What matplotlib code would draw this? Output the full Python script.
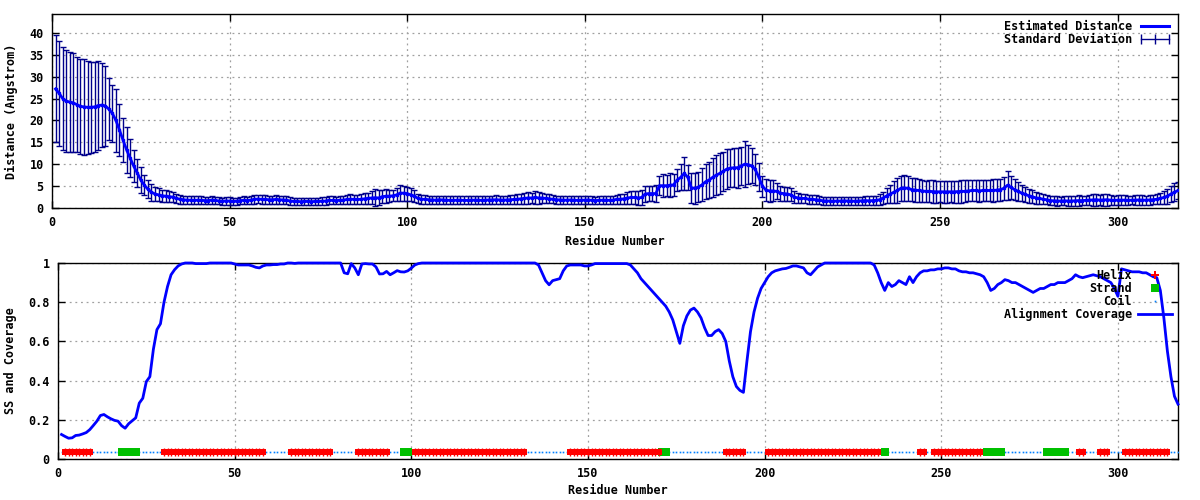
import matplotlib
matplotlib.use("Agg")
import matplotlib.pyplot as plt
from matplotlib.lines import Line2D
import numpy as np

residues = list(range(1, 318))

distance = [
    27.2, 26.2, 25.0, 24.4, 24.2, 24.0, 23.6, 23.2, 23.1, 23.0,
    23.0, 23.1, 23.4, 23.5, 23.3, 22.6, 21.6, 20.0, 17.8, 15.5,
    13.3, 11.4, 9.6, 8.0, 6.4, 5.2, 4.3, 3.6, 3.2, 3.0,
    2.8, 2.7, 2.6, 2.5, 2.2, 2.0, 1.9, 1.8, 1.8, 1.75,
    1.8, 1.75, 1.7, 1.7, 1.8, 1.75, 1.6, 1.55, 1.6, 1.6,
    1.5, 1.55, 1.7, 1.75, 1.7, 1.8, 2.0, 2.05, 2.0, 1.95,
    1.9, 1.9, 1.95, 1.9, 1.85, 1.8, 1.6, 1.5, 1.5, 1.45,
    1.5, 1.5, 1.45, 1.5, 1.5, 1.55, 1.6, 1.75, 1.75, 1.7,
    1.75, 1.8, 1.95, 2.0, 2.0, 1.95, 2.0, 2.1, 2.2, 2.3,
    2.35, 2.3, 2.6, 2.7, 2.7, 2.8, 3.0, 3.4, 3.4, 3.3,
    3.0, 2.7, 2.2, 2.0, 2.0, 1.9, 1.85, 1.8, 1.9, 1.85,
    1.8, 1.75, 1.75, 1.8, 1.8, 1.75, 1.75, 1.8, 1.8, 1.8,
    1.75, 1.8, 1.85, 1.85, 1.9, 1.85, 1.8, 1.85, 1.9, 1.95,
    2.0, 2.1, 2.2, 2.3, 2.3, 2.4, 2.3, 2.3, 2.2, 2.1,
    2.0, 1.9, 1.85, 1.8, 1.8, 1.85, 1.8, 1.75, 1.8, 1.8,
    1.85, 1.75, 1.7, 1.75, 1.8, 1.8, 1.75, 1.8, 2.0, 2.0,
    2.1, 2.3, 2.4, 2.4, 2.3, 2.4, 3.2, 3.3, 3.3, 3.3,
    5.1, 5.1, 5.1, 5.2, 5.3, 6.4, 7.0, 7.9, 7.0, 4.6,
    4.5, 4.8, 5.3, 6.0, 6.4, 7.0, 7.5, 7.9, 8.4, 8.9,
    9.1, 9.2, 9.2, 9.6, 10.0, 9.9, 9.6, 8.8, 7.0, 5.0,
    4.1, 3.9, 3.9, 3.8, 3.4, 3.3, 3.2, 3.0, 2.5, 2.3,
    2.2, 2.2, 2.0, 2.0, 1.9, 1.8, 1.65, 1.6, 1.6, 1.55,
    1.6, 1.6, 1.65, 1.6, 1.6, 1.55, 1.6, 1.65, 1.7, 1.65,
    1.7, 1.75, 1.9, 2.3, 2.8, 3.2, 3.6, 4.0, 4.5, 4.6,
    4.5, 4.2, 4.1, 4.0, 3.9, 3.8, 3.8, 3.75, 3.7, 3.7,
    3.7, 3.7, 3.7, 3.7, 3.75, 3.8, 3.8, 3.9, 4.0, 4.0,
    3.9, 4.0, 4.0, 4.0, 4.0, 4.1, 4.2, 4.5, 5.2, 4.7,
    4.2, 3.8, 3.4, 3.1, 2.8, 2.6, 2.3, 2.2, 2.0, 1.9,
    1.7, 1.65, 1.6, 1.6, 1.65, 1.6, 1.6, 1.65, 1.7, 1.7,
    1.75, 1.8, 1.85, 1.9, 1.8, 1.85, 1.9, 1.8, 1.75, 1.8,
    1.8, 1.8, 1.75, 1.8, 1.8, 1.85, 1.8, 1.8, 1.85, 1.9,
    2.0, 2.2, 2.4, 2.7, 3.2, 3.6, 4.0,
]

std_dev = [
    12.2, 12.0, 11.8, 11.6, 11.4, 11.3, 10.8, 10.9, 11.0, 10.6,
    10.4, 10.3, 10.2, 9.6, 9.2, 7.0, 6.5, 7.2, 6.0, 5.0,
    5.2, 4.4, 3.6, 3.2, 2.9, 2.3, 2.1, 1.9, 1.6, 1.5,
    1.4, 1.3, 1.2, 1.2, 1.1, 1.0, 0.9, 0.9, 0.9, 0.9,
    0.9, 0.9, 0.85, 0.9, 0.9, 0.85, 0.8, 0.8, 0.85, 0.85,
    0.8, 0.8, 0.85, 0.9, 0.9, 0.9, 1.0, 1.0, 1.0, 0.95,
    0.9, 0.9, 1.0, 0.95, 0.9, 0.9, 0.85, 0.8, 0.8, 0.8,
    0.8, 0.8, 0.8, 0.8, 0.85, 0.85, 0.85, 0.9, 0.9, 0.9,
    0.95, 1.0, 1.1, 1.1, 1.0, 1.1, 1.2, 1.3, 1.2, 1.5,
    2.0, 1.7, 1.5, 1.6, 1.4, 1.2, 1.5, 1.8, 1.7, 1.6,
    1.5, 1.4, 1.1, 1.0, 1.0, 0.95, 0.9, 0.9, 0.95, 0.9,
    0.9, 0.9, 0.95, 0.9, 0.9, 0.95, 0.9, 0.9, 0.95, 0.9,
    0.9, 0.95, 0.9, 0.95, 1.0, 0.95, 0.9, 1.0, 1.0, 1.05,
    1.1, 1.2, 1.3, 1.4, 1.2, 1.4, 1.3, 1.2, 1.1, 1.0,
    0.95, 0.9, 0.9, 0.95, 0.9, 0.95, 0.9, 0.9, 0.95, 0.9,
    0.95, 0.9, 0.9, 0.95, 0.9, 0.95, 0.95, 1.0, 1.0, 1.1,
    1.2, 1.3, 1.4, 1.5, 1.6, 1.8, 1.9, 1.8, 1.7, 1.9,
    2.2, 2.6, 2.4, 2.8, 2.5, 2.6, 3.0, 3.7, 2.8, 3.5,
    3.6, 3.4, 3.8, 4.0, 4.2, 4.5, 4.6, 4.7, 4.5, 4.6,
    4.4, 4.5, 4.6, 4.4, 5.2, 4.5, 4.0, 3.5, 3.2, 2.4,
    2.6, 2.5, 2.4, 1.8, 1.7, 1.6, 1.6, 1.5, 1.3, 1.2,
    1.1, 1.1, 1.0, 1.05, 1.0, 1.0, 0.95, 0.95, 0.9, 0.9,
    0.95, 0.9, 0.9, 0.95, 0.9, 0.9, 0.95, 0.95, 1.0, 1.0,
    1.05, 1.1, 1.2, 1.4, 1.7, 2.0, 2.5, 2.8, 2.9, 3.0,
    2.8, 2.6, 2.7, 2.6, 2.5, 2.4, 2.5, 2.6, 2.5, 2.4,
    2.5, 2.5, 2.4, 2.5, 2.5, 2.6, 2.5, 2.4, 2.5, 2.5,
    2.6, 2.5, 2.4, 2.5, 2.6, 2.5, 2.5, 2.6, 3.3, 2.7,
    2.4, 2.1, 1.9, 1.8, 1.6, 1.5, 1.3, 1.2, 1.1, 1.0,
    1.0, 1.0, 1.05, 1.0, 1.0, 1.05, 1.1, 1.1, 1.2, 1.1,
    1.1, 1.2, 1.3, 1.4, 1.2, 1.3, 1.4, 1.2, 1.1, 1.1,
    1.1, 1.1, 1.1, 1.0, 1.1, 1.1, 1.1, 1.05, 1.1, 1.1,
    1.2, 1.3, 1.5, 1.7, 1.9, 2.0, 2.0,
]

coverage = [
    0.125, 0.115, 0.106, 0.108, 0.12, 0.122, 0.128, 0.135, 0.15, 0.171,
    0.193, 0.222, 0.227, 0.215, 0.205, 0.197, 0.193, 0.17, 0.157, 0.18,
    0.195, 0.21, 0.285, 0.31, 0.395, 0.42, 0.56, 0.66, 0.69, 0.8,
    0.88, 0.94, 0.966, 0.985, 0.995, 1.0, 1.0, 1.0, 0.997, 0.997,
    0.997, 0.997, 1.0, 1.0, 1.0, 1.0, 1.0, 1.0, 1.0, 0.995,
    0.99, 0.99, 0.99, 0.99, 0.985, 0.978, 0.975, 0.985, 0.99, 0.99,
    0.992, 0.992, 0.995, 0.995, 1.0, 1.0, 0.998, 1.0, 1.0, 1.0,
    1.0, 1.0, 1.0, 1.0, 1.0, 1.0, 1.0, 1.0, 1.0, 1.0,
    0.95, 0.945, 0.997, 0.975, 0.94, 0.995, 0.997, 0.995, 0.995, 0.98,
    0.944, 0.945, 0.957, 0.94, 0.95, 0.961, 0.955, 0.954, 0.96, 0.974,
    0.99, 0.997, 1.0, 1.0, 1.0, 1.0, 1.0, 1.0, 1.0, 1.0,
    1.0, 1.0, 1.0, 1.0, 1.0, 1.0, 1.0, 1.0, 1.0, 1.0,
    1.0, 1.0, 1.0, 1.0, 1.0, 1.0, 1.0, 1.0, 1.0, 1.0,
    1.0, 1.0, 1.0, 1.0, 1.0, 0.99, 0.95, 0.91, 0.889, 0.91,
    0.915, 0.92, 0.96, 0.985, 0.99, 0.99, 0.99, 0.99, 0.985, 0.985,
    0.99, 0.997, 0.997, 0.997, 0.997, 0.997, 0.997, 0.997, 0.997, 0.997,
    0.997, 0.99, 0.97, 0.95, 0.92, 0.9, 0.88, 0.86, 0.84, 0.82,
    0.8, 0.78, 0.75, 0.71, 0.65, 0.59, 0.68, 0.73, 0.76, 0.77,
    0.75, 0.72, 0.67, 0.63, 0.63, 0.65, 0.66, 0.64, 0.6, 0.5,
    0.42, 0.37, 0.35, 0.34, 0.5, 0.65, 0.75, 0.82, 0.87, 0.9,
    0.93, 0.95, 0.96, 0.965, 0.97, 0.972, 0.978, 0.985, 0.985, 0.98,
    0.975, 0.95, 0.94, 0.96, 0.98, 0.99, 1.0, 1.0, 1.0, 1.0,
    1.0, 1.0, 1.0, 1.0, 1.0, 1.0, 1.0, 1.0, 1.0, 1.0,
    0.99, 0.95, 0.9, 0.86, 0.9, 0.88, 0.89, 0.91, 0.9, 0.89,
    0.93, 0.9, 0.93, 0.95, 0.96, 0.96, 0.965, 0.965, 0.97, 0.97,
    0.975, 0.975, 0.97, 0.97, 0.96, 0.955, 0.955, 0.95, 0.95, 0.945,
    0.94, 0.93, 0.9, 0.86, 0.87, 0.89, 0.9, 0.915, 0.91, 0.9,
    0.9, 0.89, 0.88, 0.87, 0.86, 0.85, 0.86, 0.87, 0.87, 0.88,
    0.89, 0.89, 0.9, 0.9, 0.9, 0.91, 0.92, 0.94, 0.93, 0.925,
    0.93, 0.935, 0.94, 0.935, 0.93, 0.92, 0.91, 0.9, 0.87, 0.83,
    0.97, 0.965, 0.96, 0.955, 0.955, 0.955, 0.95, 0.95, 0.94, 0.93,
    0.925, 0.86, 0.72, 0.55, 0.42, 0.32, 0.28,
]

helix_ranges = [(2, 9), (30, 58), (66, 77), (85, 93), (101, 132), (145, 170),
                (189, 194), (201, 232), (244, 245), (248, 261), (289, 290),
                (295, 297), (302, 314)]
strand_ranges = [(18, 22), (98, 99), (171, 172), (234, 234), (263, 267), (280, 285)]
ss_level = 0.035

x_ticks = [0, 50, 100, 150, 200, 250, 300]
top_y_ticks = [0, 5, 10, 15, 20, 25, 30, 35, 40]
bottom_y_ticks = [0, 0.2, 0.4, 0.6, 0.8, 1.0]
bottom_y_labels = ["0", "0.2", "0.4", "0.6", "0.8", "1"]

# ---------------------------------------------------------------
plt.rcParams["font.family"] = "DejaVu Sans Mono"
plt.rcParams["font.weight"] = "bold"
plt.rcParams["font.size"] = 8.5
LEG_PROP = dict(family="DejaVu Sans Mono", weight="bold", size=8.5)

fig = plt.figure(figsize=(12, 5), dpi=100)
W, H = 1200.0, 500.0
ax1 = fig.add_axes([52 / W, 1 - 208 / H, (1178 - 52) / W, (208 - 14) / H])
ax2 = fig.add_axes([58 / W, 1 - 459 / H, (1178 - 58) / W, (459 - 263) / H])

grid_color = "#a0a0a0"
for ax in (ax1, ax2):
    ax.set_xlim(0, 317)
    ax.set_xticks(x_ticks)
    ax.tick_params(direction="in", length=5, width=1, top=True, right=True,
                   labelsize=8.5, pad=6, colors="black")
    ax.grid(True, color=grid_color, linestyle=(0, (1.5, 3)), linewidth=0.9)
    ax.set_axisbelow(True)
    for s in ax.spines.values():
        s.set_linewidth(1)
        s.set_color("black")

# ---- top panel ----
ax1.set_ylim(0, 44.3)
ax1.set_yticks(top_y_ticks)
ax1.errorbar(residues, distance, yerr=std_dev, fmt="none", ecolor="#00008b",
             elinewidth=1, capsize=2.3, capthick=1, zorder=2)
ax1.plot(residues, distance, color="#0000ff", linewidth=2.0, zorder=3,
         marker="s", markersize=2, markevery=1)
ax1.set_xlabel("Residue Number", fontweight="bold", fontsize=8.5, labelpad=4)
ax1.set_ylabel("Distance (Angstrom)", fontweight="bold", fontsize=8.5, labelpad=8)

h_dist = Line2D([], [], color="#0000ff", linewidth=2.2)
h_std = Line2D([], [], color="#00008b", linewidth=1, marker="|", markersize=7,
               markeredgewidth=1)
ax1.legend([h_dist, h_std], ["Estimated Distance", "Standard Deviation"],
           loc="upper right", frameon=False, markerfirst=False,
           numpoints=3, handlelength=2.9, handletextpad=0.5,
           labelspacing=0.0, borderaxespad=0.2, borderpad=0.3, prop=LEG_PROP)

# ---- bottom panel ----
ax2.set_ylim(0, 1)
ax2.set_yticks(bottom_y_ticks)
ax2.set_yticklabels(bottom_y_labels)

helix_x = [r for a, b in helix_ranges for r in range(a, b + 1)]
strand_x = [r for a, b in strand_ranges for r in range(a, b + 1)]
ss_set = set(helix_x) | set(strand_x)
coil_x = [r for r in residues if r not in ss_set]

ax2.plot(coil_x, [ss_level] * len(coil_x), linestyle="none", marker="s",
         markersize=1.2, color="#0080ff", markeredgewidth=0, zorder=3)
ax2.plot(strand_x, [ss_level] * len(strand_x), linestyle="none", marker="s",
         markersize=5.2, color="#00c000", markeredgewidth=0, zorder=3)
ax2.plot(helix_x, [ss_level] * len(helix_x), linestyle="none", marker="s",
         markersize=3.8, color="#ff0000", markeredgewidth=0, zorder=4)
ax2.plot(helix_x, [ss_level] * len(helix_x), linestyle="none", marker="|",
         markersize=5.6, color="#ff0000", markeredgewidth=1, zorder=4)
ax2.plot(residues, coverage, color="#0000ff", linewidth=2, zorder=5, clip_on=False)

ax2.set_xlabel("Residue Number", fontweight="bold", fontsize=8.5, labelpad=3)
ax2.set_ylabel("SS and Coverage", fontweight="bold", fontsize=8.5, labelpad=8)

h_helix = Line2D([], [], linestyle="none", marker="P", markersize=6,
                 color="#ff0000", markeredgewidth=0)
h_strand = Line2D([], [], linestyle="none", marker="s", markersize=5.5,
                  color="#00c000", markeredgewidth=0)
h_coil = Line2D([], [], linestyle="none", marker="s", markersize=1.2,
                color="#0080ff", markeredgewidth=0)
h_cov = Line2D([], [], color="#0000ff", linewidth=2)
ax2.legend([h_helix, h_strand, h_coil, h_cov],
           ["Helix", "Strand", "Coil", "Alignment Coverage"],
           loc="upper right", frameon=False, markerfirst=False,
           numpoints=1, handlelength=2.9, handletextpad=0.5,
           labelspacing=0.0, borderaxespad=0.2, borderpad=0.3, prop=LEG_PROP)

fig.savefig("out.png", dpi=100)
